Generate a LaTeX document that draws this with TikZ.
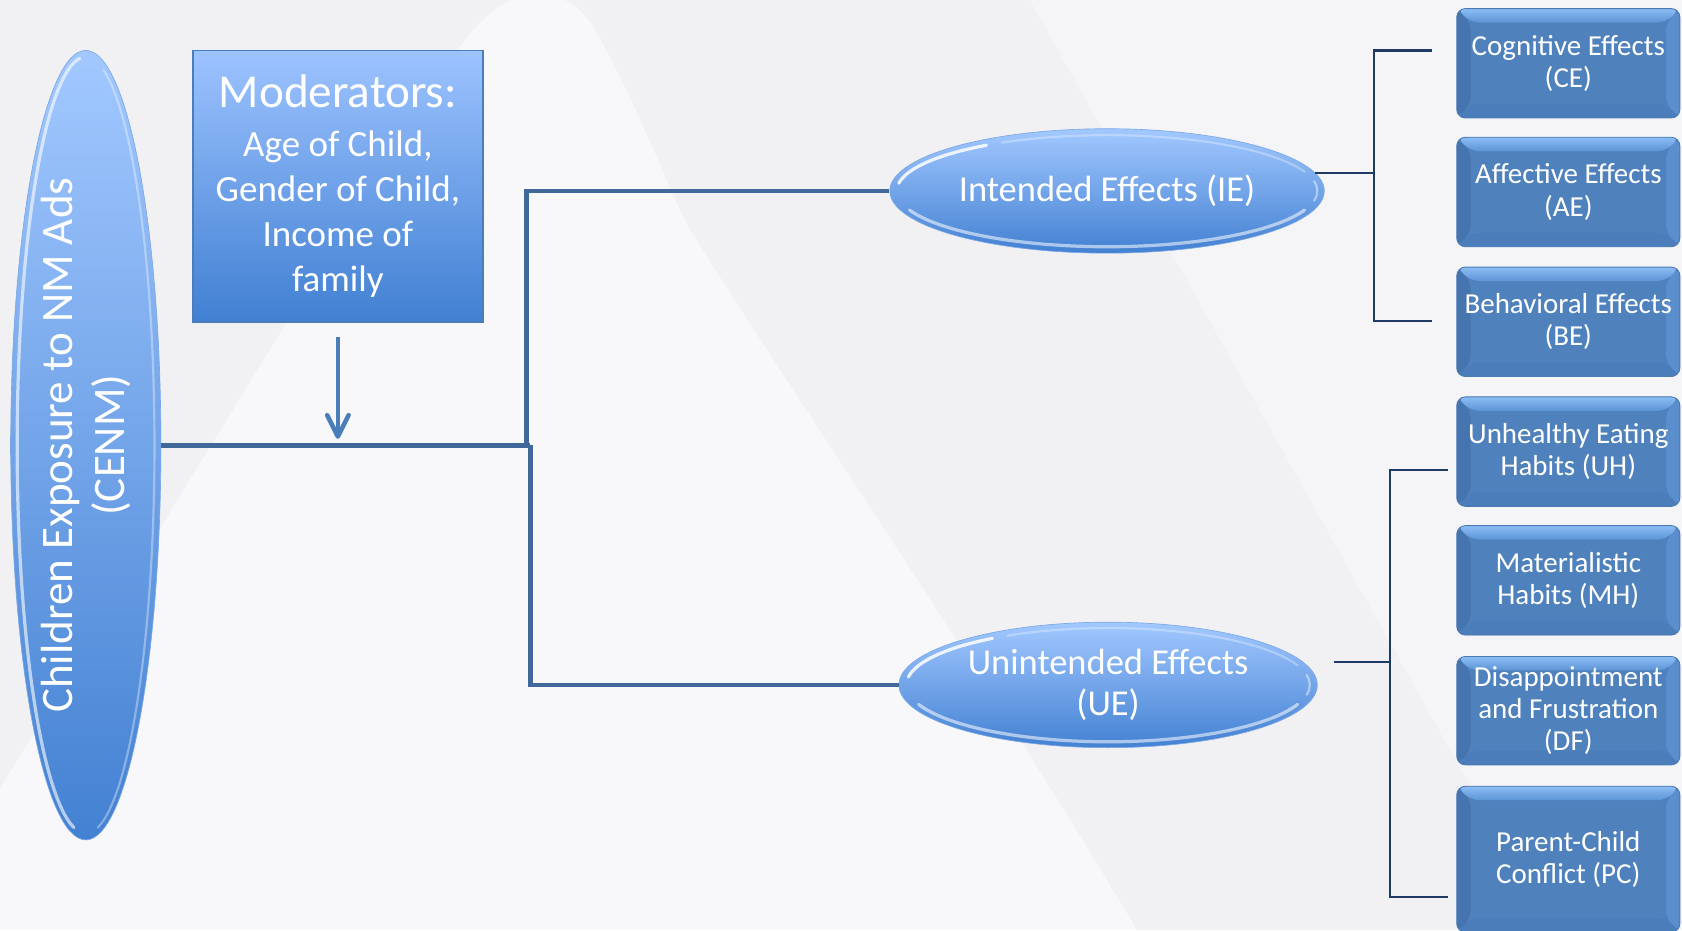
\documentclass[tikz,border=0pt]{standalone}
\usepackage{fontspec}
\setmainfont{Carlito}
\usetikzlibrary{arrows.meta,shapes.geometric,calc}

\definecolor{bgA}{HTML}{F1F1F3}
\definecolor{bgB}{HTML}{F8F8FA}
\definecolor{bgC}{HTML}{F5F5F7}
\definecolor{connC}{HTML}{41689A}
\definecolor{brkC}{HTML}{1F3A66}
\definecolor{arrowC}{HTML}{4A7EBB}
\definecolor{glossTop}{HTML}{A2C8FF}
\definecolor{glossBot}{HTML}{4381D2}
\definecolor{glossEdge}{HTML}{7AA8E6}
\definecolor{modTop}{HTML}{9DC3FF}
\definecolor{modBot}{HTML}{4180D2}
\definecolor{modEdge}{HTML}{4A7EBB}
\definecolor{bxMid}{HTML}{4F81BD}
\definecolor{bxTopA}{HTML}{8CBDF5}
\definecolor{bxTopB}{HTML}{5C94D5}
\definecolor{bxBot}{HTML}{4A7DBA}
\definecolor{bxLeft}{HTML}{4674AE}
\definecolor{bxRight}{HTML}{5B8ECC}
\definecolor{bxEdge}{HTML}{4A79B3}

% highlights on a glossy ellipse: #1 node, #2 x radius, #3 y radius (inset)
% (the y axis points down, so the angles are mirrored)
\newcommand\glossrim[3]{%
  \draw[white, opacity=.55, line width=3pt, line cap=round]
    ([shift={(-160:#2 and #3)}]#1.center) arc[start angle=-160, end angle=-20, x radius=#2, y radius=#3];
  \draw[white, opacity=.85, line width=3pt, line cap=round]
    ([shift={(172:#2 and #3)}]#1.center) arc[start angle=172, end angle=125, x radius=#2, y radius=#3];
  \draw[white, opacity=.30, line width=2pt, line cap=round]
    ([shift={(120:#2 and #3)}]#1.center) arc[start angle=120, end angle=20, x radius=#2, y radius=#3];
  \draw[white, opacity=.45, line width=2pt, line cap=round]
    ([shift={(-10:#2 and #3)}]#1.center) arc[start angle=-10, end angle=10, x radius=#2, y radius=#3];
}

\begin{document}
\begin{tikzpicture}[x=1pt,y=-1pt,
  glossy/.style={ellipse, draw=glossEdge, line width=0.6pt, top color=glossTop, bottom color=glossBot, inner sep=0pt, text=white, align=center},
  modbox/.style={rectangle, draw=modEdge, line width=1.5pt, top color=modTop, bottom color=modBot, inner sep=0pt, text=white, align=center, font=\fontsize{34.5}{42}\selectfont},
  connline/.style={draw=connC, line width=4.5pt},
  brkline/.style={draw=brkC, line width=2.2pt},
  modshaft/.style={draw=arrowC, line width=3.3pt},
  modhead/.style={draw=arrowC, line width=4.2pt, line cap=round, line join=round},
  bevbox/.style={rectangle, rounded corners=8pt, fill=bxMid, draw=bxEdge, line width=0.8pt, inner sep=0pt,
    minimum width=208pt, text=white, align=center, font=\fontsize{27}{30}\selectfont,
    path picture={
      \path (path picture bounding box.north west) coordinate (pnw)
            (path picture bounding box.north east) coordinate (pne)
            (path picture bounding box.south west) coordinate (psw)
            (path picture bounding box.south east) coordinate (pse);
      \fill[bxLeft] (pnw) -- ([shift={(13pt,-13pt)}]pnw) -- ([shift={(13pt,13pt)}]psw) -- (psw) -- cycle;
      \fill[bxRight] (pne) -- ([shift={(-13pt,-13pt)}]pne) -- ([shift={(-13pt,13pt)}]pse) -- (pse) -- cycle;
      \fill[bxBot] (psw) -- (pse) -- ([shift={(-13pt,13pt)}]pse) -- ([shift={(13pt,13pt)}]psw) -- cycle;
      \shade[top color=bxTopA, bottom color=bxTopB] (pnw) -- (pne) -- ([shift={(-13pt,-13pt)}]pne) -- ([shift={(13pt,-13pt)}]pnw) -- cycle;
    }}
]
% background
\fill[bgA] (0,0) rectangle (1568,867);
\useasboundingbox (0,0) rectangle (1568,867);
\fill[bgC] (960,0) -- (1568,0) -- (1568,867) -- (1446,867) -- cycle;
\fill[bgB] (0,735) -- (400,85) .. controls (440,20) and (470,-5) .. (500,-5)
  .. controls (530,-5) and (545,10) .. (557,32)
  .. controls (600,110) and (620,170) .. (643,214)
  .. controls (760,400) and (900,600) .. (1060,867) -- (0,867) -- cycle;

% left ellipse
\node[glossy, minimum width=140pt, minimum height=736pt] (cenm) at (80,415) {};
\draw[white, opacity=.6, line width=3pt, line cap=round]
  ([shift={(-100:64pt and 362pt)}]cenm.center) arc[start angle=-100, end angle=-265, x radius=64pt, y radius=362pt];
\draw[white, opacity=.35, line width=2pt, line cap=round]
  ([shift={(-80:64pt and 362pt)}]cenm.center) arc[start angle=-80, end angle=75, x radius=64pt, y radius=362pt];
\node[rotate=90, text=white, align=center, font=\fontsize{42}{48}\selectfont] (cenmtext) at (cenm.center) {Children Exposure to NM Ads\\(CENM)};

% moderators
\node[modbox, minimum width=270pt, minimum height=253pt] (mod) at (315,173.5)
  {{\fontsize{44}{48}\selectfont Moderators:}\\[4pt]Age of Child,\\Gender of Child,\\Income of\\family};
\coordinate (modtip) at (315,407);
\draw[modshaft] ([yshift=-13pt]mod.south) -- ([yshift=3pt]modtip);
\draw[modhead] ([shift={(-10pt,20pt)}]modtip) -- (modtip) -- ([shift={(10pt,20pt)}]modtip);

% effect ellipses
\node[glossy, minimum width=405pt, minimum height=116pt, font=\fontsize{34}{39}\selectfont] (ie) at (1032,178) {Intended Effects (IE)};
\glossrim{ie}{196pt}{52pt}
\node[glossy, minimum width=390pt, minimum height=117pt, font=\fontsize{34}{39}\selectfont] (ue) at (1033,638.5) {Unintended Effects\\(UE)};
\glossrim{ue}{188pt}{53pt}

% main connectors
\coordinate (jup) at (490.5,415);
\coordinate (jdn) at (494.5,415);
\draw[connline] (cenm.east) -- (jdn);
\draw[connline] (jup) |- (ie.west);
\draw[connline] (jdn) |- (ue.west);

% right boxes
\node[bevbox, minimum height=102pt] (ce) at (1462,59) {Cognitive Effects\\(CE)};
\node[bevbox, minimum height=102pt] (ae) at (1462,179) {Affective Effects\\(AE)};
\node[bevbox, minimum height=102pt] (be) at (1462,300) {Behavioral Effects\\(BE)};
\node[bevbox, minimum height=102pt] (uh) at (1462,421) {Unhealthy Eating\\Habits (UH)};
\node[bevbox, minimum height=102pt] (mh) at (1462,541) {Materialistic\\Habits (MH)};
\node[bevbox, minimum height=101pt] (df) at (1462,662.5) {Disappointment\\and Frustration\\(DF)};
\node[bevbox, minimum height=136pt] (pc) at (1462,801) {Parent-Child\\Conflict (PC)};

% brackets IE
\coordinate (ieTop) at (1335,47);
\coordinate (ieBot) at (1335,299);
\coordinate (ieV) at (1281,159);
\draw[brkline] (ie.5.5) -- (ie.5.5 -| ieV);
\draw[brkline] (ieTop) -| (ieV) |- (ieBot);

% brackets UE
\coordinate (ueTop) at (1350,438);
\coordinate (ueBot) at (1350,836);
\coordinate (ueV) at (1296,617);
\draw[brkline] ($(ue.east)+(15pt,21.5pt)$) -- (ueV);
\draw[brkline] (ueTop) -| (ueV) |- (ueBot);
\end{tikzpicture}
\end{document}
